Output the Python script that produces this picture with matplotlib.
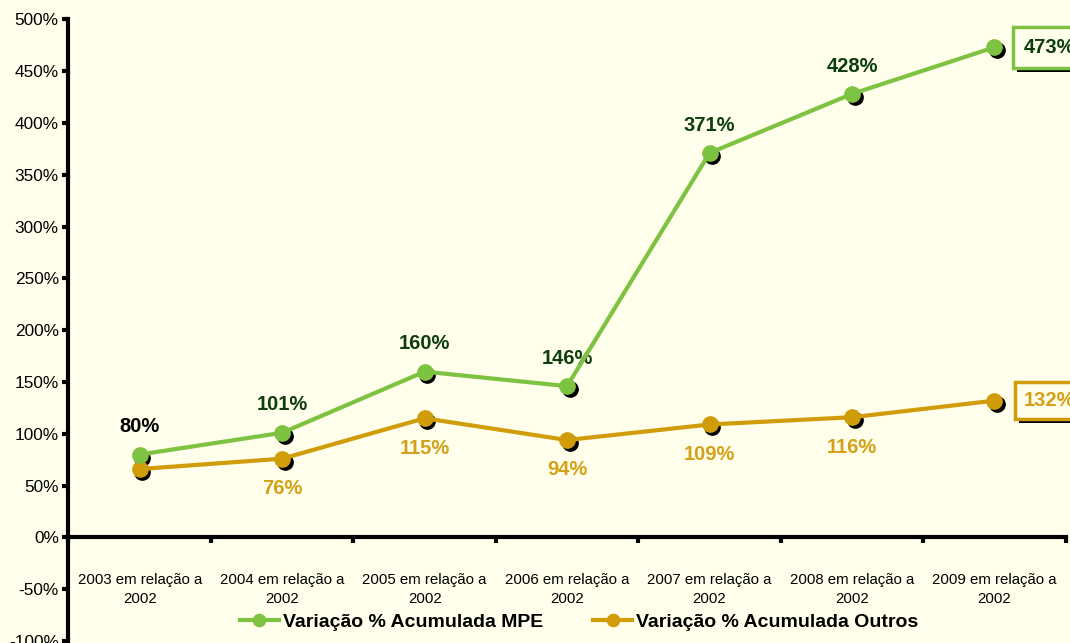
import matplotlib
matplotlib.use("Agg")
import matplotlib.pyplot as plt
import matplotlib.patheffects as pe
from matplotlib.transforms import offset_copy
from matplotlib.ticker import FuncFormatter, MultipleLocator

plt.rcParams["font.family"] = ["Liberation Sans", "DejaVu Sans"]

categories = ["2003 em relação a\n2002", "2004 em relação a\n2002", "2005 em relação a\n2002",
              "2006 em relação a\n2002", "2007 em relação a\n2002", "2008 em relação a\n2002",
              "2009 em relação a\n2002"]
mpe = [80, 101, 160, 146, 371, 428, 473]
outros = [66, 76, 115, 94, 109, 116, 132]
mpe_labels = ["80%", "101%", "160%", "146%", "371%", "428%", "473%"]
outros_labels = [None, "76%", "115%", "94%", "109%", "116%", "132%"]

BG = "#FFFFEB"
GREEN = "#7DC241"
GOLD = "#D09C0A"
GREEN_TXT = "#0E3D0E"
GOLD_TXT = "#D4A017"

fig = plt.figure(figsize=(10.7, 6.43), dpi=100, facecolor=BG)
ax = fig.add_axes([0.064, 0.003, 0.932, 0.967], facecolor=BG)

x = list(range(len(categories)))
shadow = offset_copy(ax.transData, fig=fig, x=2.5, y=-3, units="dots")

for vals, col, lab in [(outros, GOLD, "Variação % Acumulada Outros"),
                       (mpe, GREEN, "Variação % Acumulada MPE")]:
    ax.plot(x, vals, "o", color="black", ms=11, transform=shadow, zorder=3)
    ax.plot(x, vals, "-o", color=col, lw=3, ms=11, zorder=4, label=lab)

# data labels
for i, (v, t) in enumerate(zip(mpe, mpe_labels)):
    if i == len(mpe) - 1:
        continue
    c = "black" if i == 0 else GREEN_TXT
    ax.annotate(t, (i, v), xytext=(0, 20), textcoords="offset points", ha="center",
                va="center", fontsize=14.5, fontweight="bold", color=c)
for i, (v, t) in enumerate(zip(outros, outros_labels)):
    if t is None or i == len(outros) - 1:
        continue
    ax.annotate(t, (i, v), xytext=(0, -21.5), textcoords="offset points", ha="center",
                va="center", fontsize=14.5, fontweight="bold", color=GOLD_TXT)

# boxed end labels
for v, t, tc, ec, pad in [(mpe[-1], mpe_labels[-1], GREEN_TXT, GREEN, 0.55),
                          (outros[-1], outros_labels[-1], GOLD_TXT, GOLD, 0.45)]:
    txt = ax.annotate(t, (len(x) - 1, v), xytext=(21, 0), textcoords="offset points",
                      ha="left", va="center", fontsize=14.5, fontweight="bold", color=tc,
                      annotation_clip=False,
                      bbox=dict(boxstyle=f"square,pad={pad}", fc=BG, ec=ec, lw=2.5))
    txt.get_bbox_patch().set_path_effects(
        [pe.SimplePatchShadow(offset=(3, -3), shadow_rgbFace="black", alpha=1), pe.Normal()])

# category labels below the zero line
for i, c in enumerate(categories):
    ax.text(i, -50, c, ha="center", va="center", fontsize=10.8, linespacing=1.45)

ax.set_xlim(-0.5, len(x) - 0.5)
ax.set_ylim(-100, 500)
ax.yaxis.set_major_locator(MultipleLocator(50))
ax.yaxis.set_major_formatter(FuncFormatter(lambda v, p: f"{v:.0f}%"))
ax.tick_params(axis="y", labelsize=12.4, width=3, length=4, direction="out", pad=3)
ax.set_xticks([i - 0.5 for i in range(len(x) + 1)])
ax.set_xticklabels([])
ax.tick_params(axis="x", width=3, length=4, direction="out")

ax.spines["bottom"].set_position(("data", 0))
ax.spines["bottom"].set_linewidth(3)
ax.spines["left"].set_linewidth(3)
ax.spines["top"].set_visible(False)
ax.spines["right"].set_visible(False)

h, l = ax.get_legend_handles_labels()
leg = ax.legend(h[::-1], l[::-1], loc="lower center", bbox_to_anchor=(0.512, -0.012), ncol=2,
                frameon=False, prop={"weight": "bold", "size": 14}, handlelength=2.0,
                handletextpad=0.2, columnspacing=2.6, markerscale=0.8)

fig.savefig("out.png", dpi=100, facecolor=BG)
